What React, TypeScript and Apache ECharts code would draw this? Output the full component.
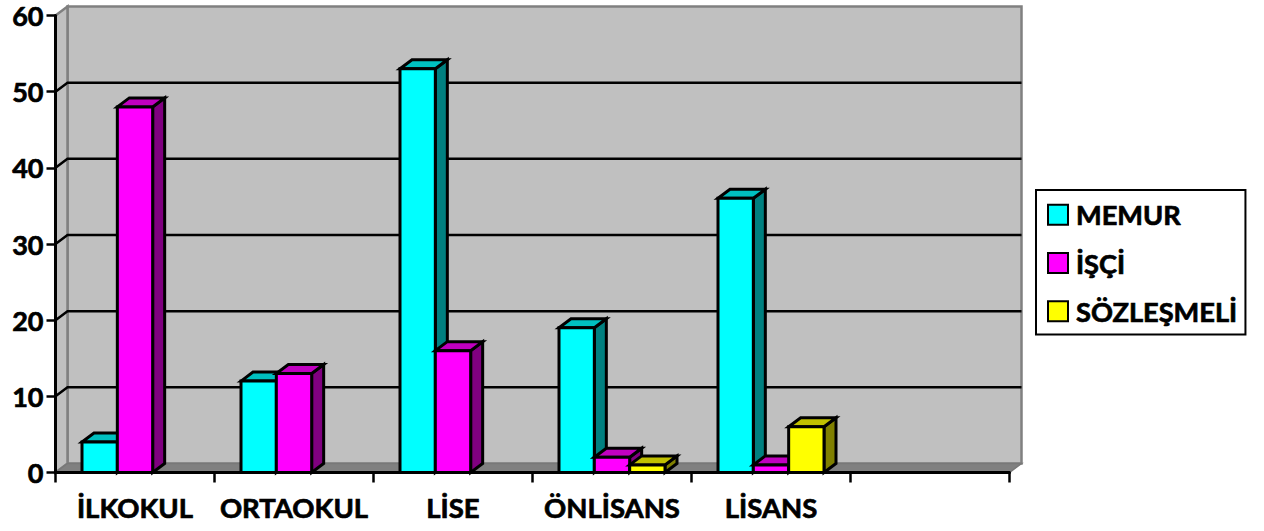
import React, { useEffect, useRef } from "react";
import * as echarts from "echarts";

const categories = ["İLKOKUL", "ORTAOKUL", "LİSE", "ÖNLİSANS", "LİSANS", ""];
const memur = [4, 12, 53, 19, 36, null];
const isci = [48, 13, 16, 2, 1, null];
const sozlesmeli = [null, null, null, 1, 6, null];
const gridTicks = [10, 20, 30, 40, 50];
const seriesNames = ["MEMUR", "İŞÇİ", "SÖZLEŞMELİ"];
const faces = [
  { front: "#00FFFF", top: "#00C0C0", side: "#008080" },
  { front: "#FF00FF", top: "#C000C0", side: "#800080" },
  { front: "#FFFF00", top: "#C0C000", side: "#808000" },
];

const DX = 12;
const DY = -9;
const FONT = "Lato, Carlito, sans-serif";
const heavy = { color: "#000000", fontFamily: FONT, fontWeight: "bold", textBorderColor: "#000000", textBorderWidth: 0.7 };

function poly(points: number[][], fill: string, stroke: string, lineWidth: number) {
  return {
    type: "polygon",
    shape: { points },
    style: { fill, stroke, lineWidth, lineJoin: "miter" },
    silent: true,
  };
}

function wallsItem(params: any) {
  const c = params.coordSys;
  const l = c.x, r = c.x + c.width, t = c.y, b = c.y + c.height;
  return {
    type: "group",
    children: [
      poly([[l + DX, t + DY], [r + DX, t + DY], [r + DX, b + DY], [l + DX, b + DY]], "#C0C0C0", "#808080", 2.5),
      poly([[l, t], [l + DX, t + DY], [l + DX, b + DY], [l, b]], "#C0C0C0", "#808080", 2.5),
      poly([[l, b], [l + DX, b + DY], [r + DX, b + DY], [r, b]], "#808080", "#787878", 1.5),
    ],
  };
}

function gridItem(params: any, api: any) {
  const c = params.coordSys;
  const y = api.coord([0, api.value(1)])[1];
  const l = c.x, r = c.x + c.width;
  return {
    type: "polyline",
    shape: { points: [[l, y], [l + DX, y + DY], [r + DX, y + DY]] },
    style: { fill: "none", stroke: "#000000", lineWidth: 2.5 },
    silent: true,
  };
}

function barItem(seriesIndex: number) {
  return (_params: any, api: any) => {
    const v = api.value(1);
    if (v == null || Number.isNaN(v)) return null;
    const center = api.coord([api.value(0), 0]);
    const top = api.coord([api.value(0), v])[1];
    const band = api.size([1, 0])[0];
    const w = band / 4.5;
    const x0 = center[0] - 1.5 * w + seriesIndex * w;
    const x1 = x0 + w;
    const y0 = center[1];
    const f = faces[seriesIndex];
    return {
      type: "group",
      children: [
        poly([[x1, top], [x1 + DX, top + DY], [x1 + DX, y0 + DY], [x1, y0]], f.side, "#000000", 3),
        poly([[x0, top], [x0 + DX, top + DY], [x1 + DX, top + DY], [x1, top]], f.top, "#000000", 3),
        poly([[x0, top], [x1, top], [x1, y0], [x0, y0]], f.front, "#000000", 3),
      ],
    };
  };
}

const valueRows = [memur, isci, sozlesmeli];

export default function App() {
  const ref = useRef<HTMLDivElement>(null);
  useEffect(() => {
    document.body.style.margin = "0";
    const chart = echarts.init(ref.current!, undefined, { renderer: "svg" });
    const barSeries = seriesNames.map((name, i) => ({
      name,
      type: "custom",
      z: 3,
      coordinateSystem: "cartesian2d",
      renderItem: barItem(i),
      encode: { x: 0, y: 1 },
      itemStyle: { color: faces[i].front, borderColor: "#000000", borderWidth: 3 },
      data: valueRows[i].map((v, k) => [k, v]),
    }));
    chart.setOption({
      animation: false,
      backgroundColor: "#FFFFFF",
      grid: { left: 55.5, top: 15.5, width: 954, height: 457, containLabel: false },
      xAxis: {
        type: "category",
        data: categories,
        boundaryGap: true,
        z: 10,
        axisLine: { show: true, lineStyle: { color: "#000000", width: 3 } },
        axisTick: { show: true, alignWithLabel: false, length: 10, lineStyle: { color: "#000000", width: 2.5 } },
        axisLabel: { ...heavy, fontSize: 27.5, margin: 21, interval: 0 },
        splitLine: { show: false },
      },
      yAxis: {
        type: "value",
        min: 0,
        max: 60,
        interval: 10,
        z: 10,
        axisLine: { show: true, lineStyle: { color: "#000000", width: 3 } },
        axisTick: { show: true, length: 9, lineStyle: { color: "#000000", width: 2.5 } },
        axisLabel: { ...heavy, fontSize: 27, margin: 12 },
        splitLine: { show: false },
      },
      legend: {
        show: true,
        data: seriesNames.map((name) => ({ name, icon: "rect" })),
        orient: "vertical",
        left: 1036,
        top: 190,
        padding: [11, 8, 9.5, 11],
        itemWidth: 20,
        itemHeight: 20,
        itemGap: 20.5,
        borderColor: "#000000",
        borderWidth: 2,
        backgroundColor: "#FFFFFF",
        textStyle: { ...heavy, fontSize: 27.2, padding: [0, 0, 0, 3] },
        selectedMode: false,
      },
      series: [
        { type: "custom", name: "walls", z: 1, silent: true, renderItem: wallsItem, data: [[0, 0]], encode: { x: 0, y: 1 } },
        { type: "custom", name: "grid", z: 2, silent: true, renderItem: gridItem, data: gridTicks.map((t) => [0, t]), encode: { x: 0, y: 1 } },
        ...barSeries,
      ],
    });
    return () => chart.dispose();
  }, []);
  return <div ref={ref} style={{ position: "absolute", left: 0, top: 0, width: 1264, height: 531 }} />;
}
